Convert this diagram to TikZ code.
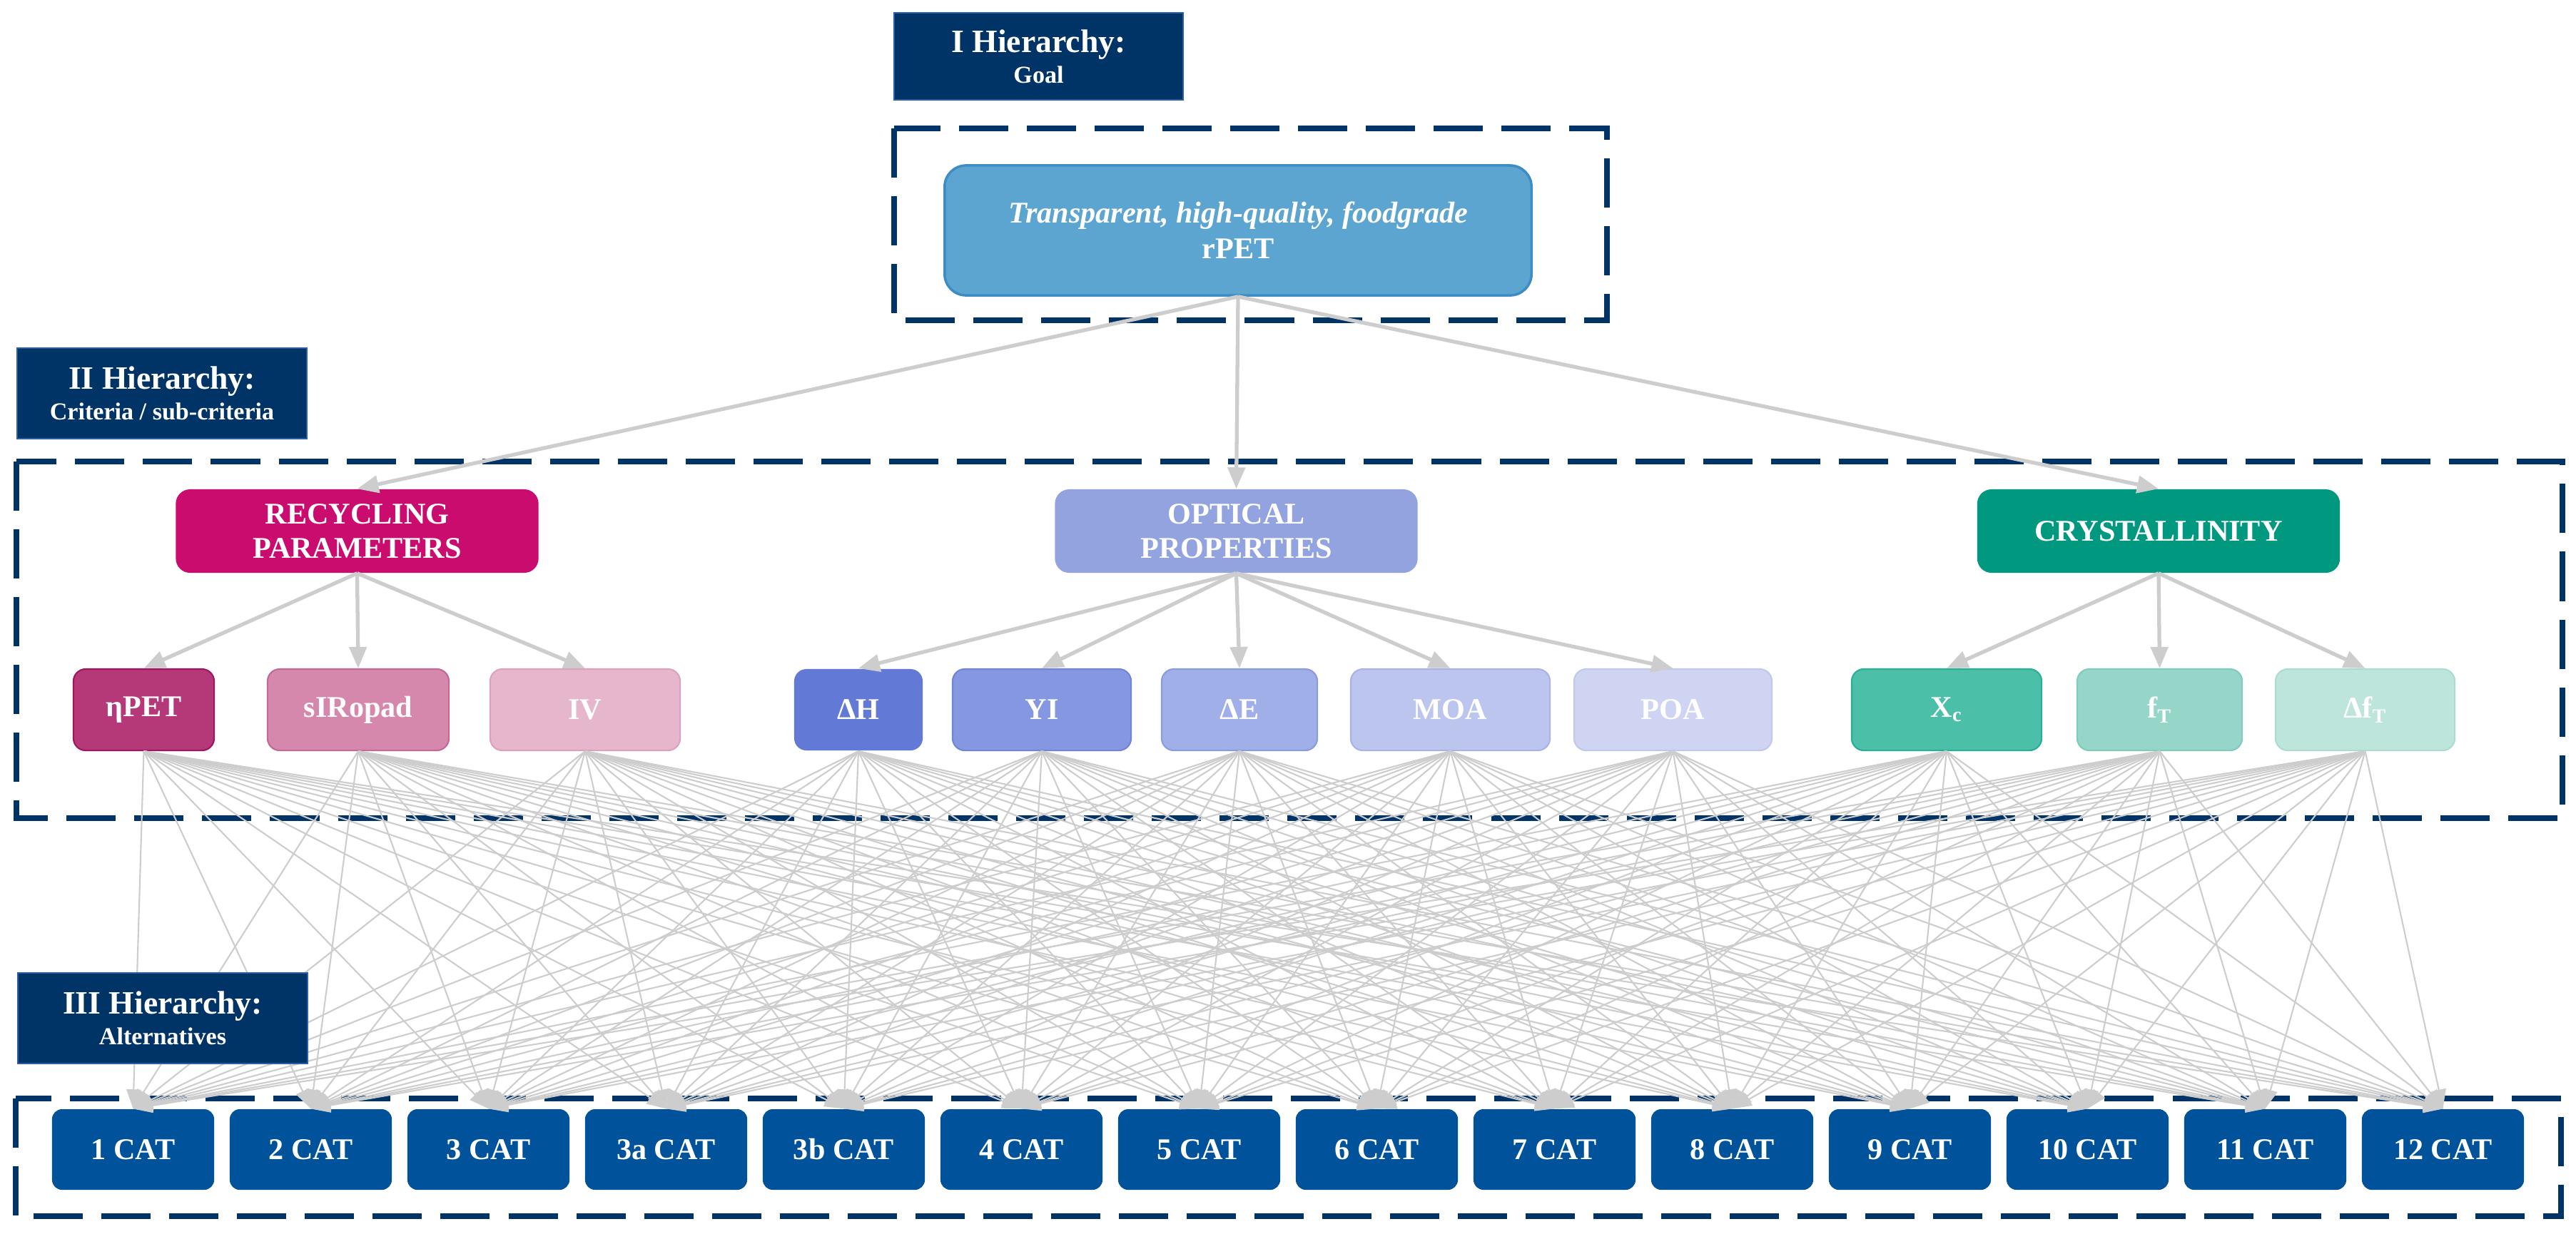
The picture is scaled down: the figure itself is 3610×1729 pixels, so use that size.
\documentclass[tikz,border=0pt]{standalone}
\usepackage{fontspec}
\setmainfont{Liberation Serif}
\usetikzlibrary{arrows.meta}

\definecolor{navy}{HTML}{003366}
\definecolor{hdredge}{HTML}{2A5EA8}
\definecolor{goalblue}{HTML}{5BA5D0}
\definecolor{goaledge}{HTML}{3C8DC6}
\definecolor{recycol}{HTML}{C90C6E}
\definecolor{optcol}{HTML}{93A3E0}
\definecolor{crystcol}{HTML}{009980}
\definecolor{catblue}{HTML}{00529B}
\definecolor{linkgrey}{HTML}{CDCDCD}

\begin{document}
\begin{tikzpicture}[
  x=0.01cm, y=-0.01cm,
  font=\bfseries,
  hdrbox/.style={fill=navy, draw=hdredge, line width=0.6pt, text=white, align=center, inner sep=0pt,
    minimum width=4.06cm, minimum height=1.27cm, font=\bfseries\fontsize{13}{12.3}\selectfont},
  dashframe/.style={draw=navy, line width=0.075cm, dash pattern=on 0.69cm off 0.26cm},
  critbox/.style={rounded corners=0.2cm, text=white, align=center, inner sep=0pt,
    minimum width=5.08cm, minimum height=1.17cm, font=\bfseries\fontsize{12}{13.5}\selectfont},
  subbox/.style={rounded corners=0.17cm, text=white, inner sep=0pt, line width=0.6pt,
    minimum height=1.14cm, font=\bfseries\fontsize{12}{14}\selectfont},
  catbox/.style={fill=catblue, rounded corners=0.14cm, text=white, inner sep=0pt,
    minimum width=2.27cm, minimum height=1.13cm, font=\bfseries\fontsize{12}{14}\selectfont},
  linkarrow/.style={draw=linkgrey, line width=1.5pt, -{Triangle[length=0.3cm, width=0.24cm]}},
  thinarrow/.style={draw=linkgrey, line width=0.6pt, -{Triangle[length=0.27cm, width=0.2cm]}}
]
\useasboundingbox (0,0) rectangle (3610,1729);

% hierarchy frames
\draw[dashframe] (1253,180) rectangle (2252,449);
\draw[dashframe] (23,647) rectangle (3591,1147);
\draw[dashframe] (22,1540) rectangle (3589,1705);

% goal
\node[fill=goalblue, draw=goaledge, line width=1pt, rounded corners=0.3cm, text=white, align=center,
  minimum width=8.22cm, minimum height=1.82cm, font=\bfseries\fontsize{12}{14.2}\selectfont]
  (goal) at (1735,323) {{\itshape Transparent, high-quality, foodgrade}\\rPET};

% criteria
\node[critbox, fill=recycol] (recyc) at (500.5,744.5) {RECYCLING\\PARAMETERS};
\node[critbox, fill=optcol] (opt) at (1732.5,744.5) {OPTICAL\\PROPERTIES};
\node[critbox, fill=crystcol] (cryst) at (3025,744.5) {CRYSTALLINITY};

% sub-criteria
\node[subbox, fill={rgb,255:red,181;green,57;blue,121}, draw={rgb,255:red,160;green,22;blue,94}, minimum width=1.97cm] (eta) at (201.5,995) {ηPET};
\node[subbox, fill={rgb,255:red,213;green,135;blue,172}, draw={rgb,255:red,196;green,104;blue,150}, minimum width=2.54cm] (siro) at (502,995) {sIRopad};
\node[subbox, fill={rgb,255:red,230;green,182;blue,204}, draw={rgb,255:red,222;green,160;blue,190}, minimum width=2.66cm] (iv) at (820,995) {IV};
\node[subbox, fill={rgb,255:red,99;green,121;blue,214}, minimum width=1.80cm] (dh) at (1203,995) {ΔH};
\node[subbox, fill={rgb,255:red,133;green,151;blue,224}, draw={rgb,255:red,112;green,132;blue,216}, minimum width=2.50cm] (yi) at (1460,995) {YI};
\node[subbox, fill={rgb,255:red,161;green,175;blue,232}, draw={rgb,255:red,138;green,155;blue,224}, minimum width=2.18cm] (de) at (1737,995) {ΔE};
\node[subbox, fill={rgb,255:red,188;green,197;blue,237}, draw={rgb,255:red,168;green,180;blue,230}, minimum width=2.79cm] (moa) at (2032.5,995) {MOA};
\node[subbox, fill={rgb,255:red,206;green,212;blue,241}, draw={rgb,255:red,192;green,200;blue,236}, minimum width=2.77cm] (poa) at (2344.5,995) {POA};
\node[subbox, fill={rgb,255:red,76;green,191;blue,168}, draw={rgb,255:red,40;green,175;blue,150}, minimum width=2.66cm] (xc) at (2728,995) {X\textsubscript{c}};
\node[subbox, fill={rgb,255:red,149;green,214;blue,200}, draw={rgb,255:red,128;green,204;blue,188}, minimum width=2.31cm] (ft) at (3026.5,995) {f\textsubscript{T}};
\node[subbox, fill={rgb,255:red,190;green,229;blue,220}, draw={rgb,255:red,172;green,220;blue,208}, minimum width=2.51cm] (dft) at (3314.5,995) {Δf\textsubscript{T}};

% alternatives
\foreach \lbl [count=\k from 0] in {1,2,3,3a,3b,4,5,6,7,8,9,10,11,12}
  \node[catbox] (c\k) at ({186.5+249*\k},1611.5) {\lbl\ CAT};

% goal -> criteria -> sub-criteria
\foreach \c in {recyc,opt,cryst}
  \draw[linkarrow] (goal.south) -- (\c.north);
\foreach \c/\s in {recyc/eta,recyc/siro,recyc/iv,opt/dh,opt/yi,opt/de,opt/moa,opt/poa,cryst/xc,cryst/ft,cryst/dft}
  \draw[linkarrow] (\c.south) -- (\s.north);

% every sub-criterion -> every alternative
\foreach \s in {eta,siro,iv,dh,yi,de,moa,poa,xc,ft,dft}
  \foreach \k in {0,...,13}
    \draw[thinarrow] (\s.south) -- (c\k.north);

% hierarchy labels (on top of the links)
\node[hdrbox, minimum width=4.05cm, minimum height=1.22cm] (h1) at (1455.5,79) {I Hierarchy:\\{\fontsize{9.7}{12.3}\selectfont Goal}};
\node[hdrbox] (h2) at (227,551.5) {II Hierarchy:\\{\fontsize{9.7}{12.3}\selectfont Criteria / sub-criteria}};
\node[hdrbox] (h3) at (228,1427.5) {III Hierarchy:\\{\fontsize{9.7}{12.3}\selectfont Alternatives}};

\end{tikzpicture}
\end{document}
